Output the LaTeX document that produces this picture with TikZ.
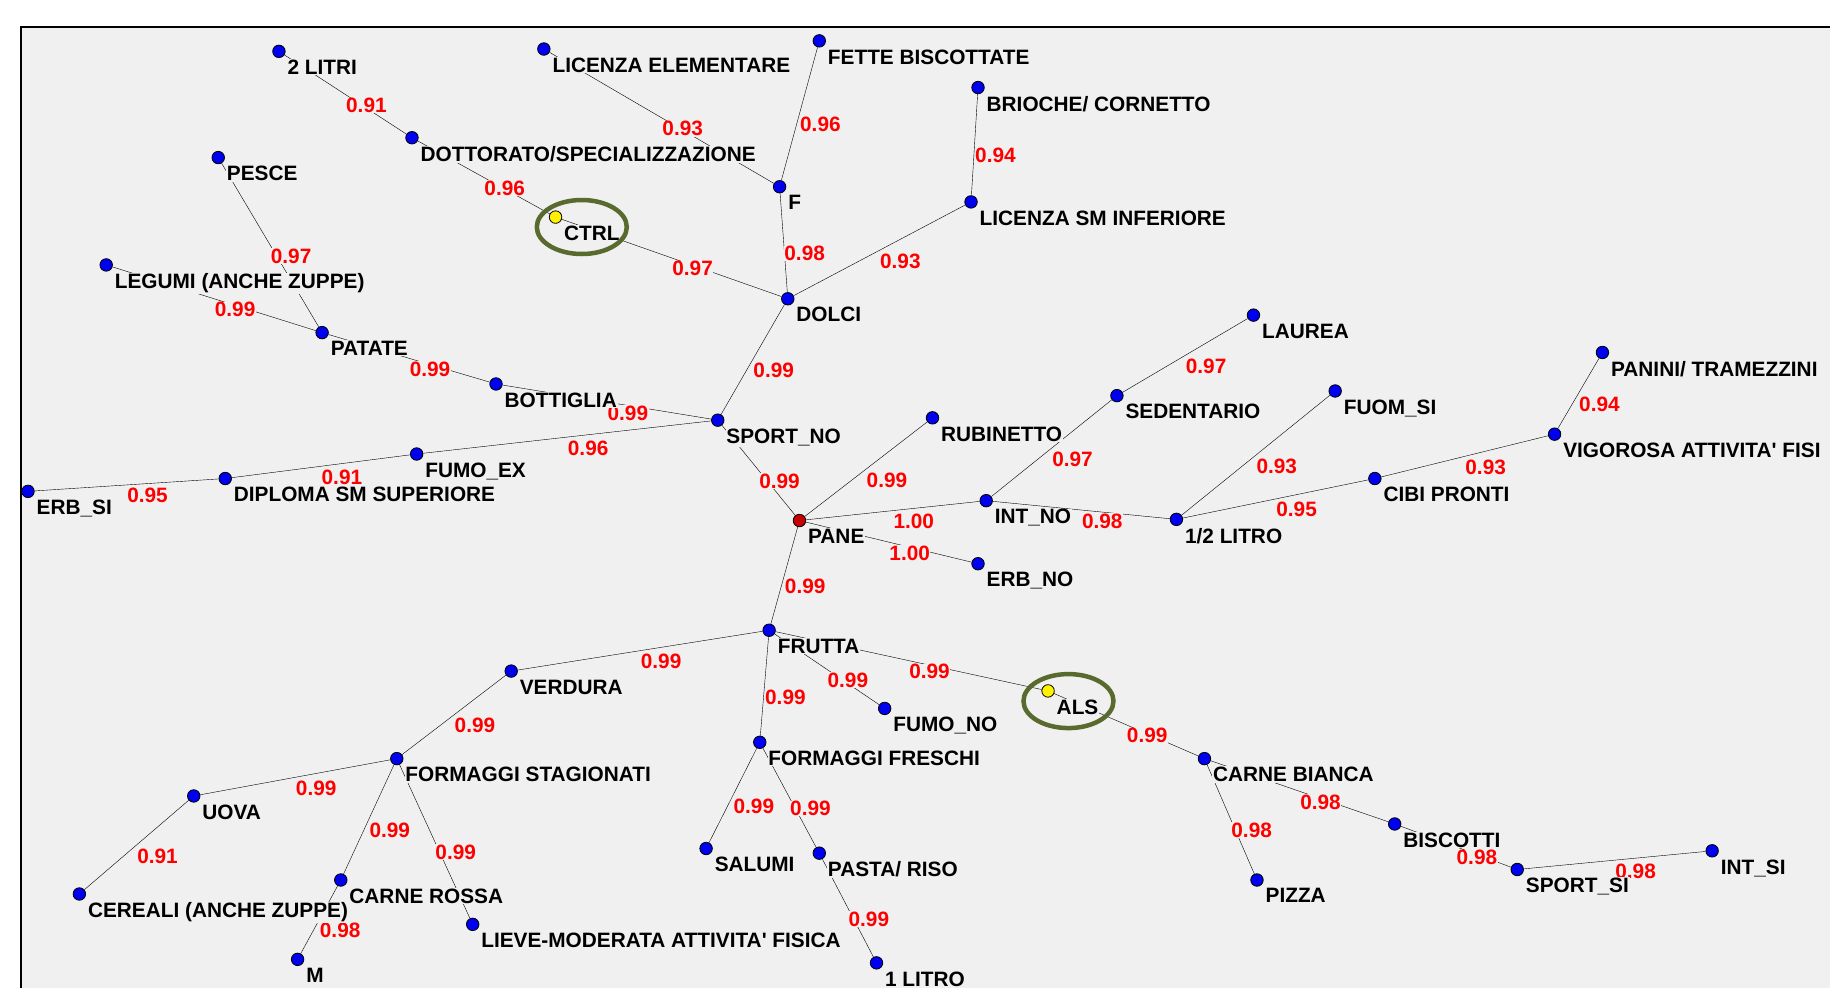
\documentclass[tikz,border=0pt]{standalone}
\usepackage{fontspec}
\setmainfont{Liberation Sans}
\usepackage{tikz}
\usetikzlibrary{shapes.geometric, backgrounds}

\definecolor{panel}{RGB}{240,240,240}
\definecolor{ringgreen}{RGB}{88,106,46}
\definecolor{dotblue}{RGB}{0,0,240}
\definecolor{dotred}{RGB}{200,0,0}

\begin{document}
\begin{tikzpicture}[x=1.1671pt, y=-1.1671pt, line width=1.1pt]
        % Define styles
        \tikzstyle{dot} = [circle, draw=black, line width=0.8pt, fill=dotblue, inner sep=0pt, minimum size=12.5pt]
        \tikzstyle{lbl} = [font=\bfseries\fontsize{20.8}{22}\selectfont, fill=panel, inner sep=0.8pt, label distance=3.7pt]
        \tikzstyle{wt} = [anchor=north west, yshift=-2.8pt, font=\bfseries\fontsize{20.8}{22}\selectfont, text=red, fill=panel, inner sep=0.5pt]
        \tikzstyle{hilite} = [ellipse, draw=ringgreen, line width=4.5pt, minimum width=90pt, minimum height=54pt]

        \useasboundingbox (0,0) rectangle (1568,846);
        \clip (0,0) rectangle (1568,846);

        % Place nodes
        \node [dot, label={[lbl]-45:{2 LITRI}}] (two_litri) at (239,44) {};
        \node [dot, label={[lbl]-45:{LICENZA ELEMENTARE}}] (lic_elem) at (466,42) {};
        \node [dot, label={[lbl]-45:{FETTE BISCOTTATE}}] (fette) at (702,35) {};
        \node [dot, label={[lbl]-45:{BRIOCHE/ CORNETTO}}] (brioche) at (838,75) {};
        \node [dot, label={[lbl]-45:{DOTTORATO/SPECIALIZZAZIONE}}] (dott) at (353,118) {};
        \node [dot, label={[lbl]-45:{PESCE}}] (pesce) at (187,135) {};
        \node [dot, fill=yellow, label={[lbl]-45:{CTRL}}] (ctrl) at (476,186) {};
        \node [dot, label={[lbl]-45:{F}}] (f_node) at (668,160) {};
        \node [dot, label={[lbl]-45:{LICENZA SM INFERIORE}}] (lic_inf) at (832,173) {};
        \node [dot, label={[lbl]-45:{LEGUMI (ANCHE ZUPPE)}}] (legumi) at (91,227) {};
        \node [dot, label={[lbl]-45:{DOLCI}}] (dolci) at (675,256) {};
        \node [dot, label={[lbl]-45:{PATATE}}] (patate) at (276,285) {};
        \node [dot, label={[lbl]-45:{LAUREA}}] (laurea) at (1074,270) {};
        \node [dot, label={[lbl]-45:{BOTTIGLIA}}] (bottiglia) at (425,329) {};
        \node [dot, label={[lbl]-45:{SEDENTARIO}}] (sedentario) at (957,339) {};
        \node [dot, label={[lbl]-45:{PANINI/ TRAMEZZINI}}] (panini) at (1373,302) {};
        \node [dot, label={[lbl]-45:{FUOM\_SI}}] (fuom_si) at (1144,335) {};
        \node [dot, label={[lbl]-45:{SPORT\_NO}}] (sport_no) at (615,360) {};
        \node [dot, label={[lbl]-45:{RUBINETTO}}] (rubinetto) at (799,358) {};
        \node [dot, label={[lbl]-45:{FUMO\_EX}}] (fumo_ex) at (357,389) {};
        \node [dot, label={[lbl]-45:{VIGOROSA ATTIVITA\textquotesingle{} FISI}}] (vigorosa) at (1332,372) {};
        \node [dot, label={[lbl]-45:{DIPLOMA SM SUPERIORE}}] (diploma) at (193,410) {};
        \node [dot, label={[lbl]-45:{ERB\_SI}}] (erb_si) at (24,421) {};
        \node [dot, label={[lbl]-45:{CIBI PRONTI}}] (cibi) at (1178,410) {};
        \node [dot, label={[lbl]-45:{INT\_NO}}] (int_no) at (845,429) {};
        \node [dot, fill=dotred, label={[lbl]-45:{PANE}}] (pane) at (685,446) {};
        \node [dot, label={[lbl]-45:{1/2 LITRO}}] (half_litro) at (1008,445) {};
        \node [dot, label={[lbl]-45:{ERB\_NO}}] (erb_no) at (838,483) {};
        \node [dot, label={[lbl]-45:{FRUTTA}}] (frutta) at (659,540) {};
        \node [dot, label={[lbl]-45:{VERDURA}}] (verdura) at (438,575) {};
        \node [dot, fill=yellow, label={[lbl]-45:{ALS}}] (als) at (898,592) {};
        \node [dot, label={[lbl]-45:{FUMO\_NO}}] (fumo_no) at (758,607) {};
        \node [dot, label={[lbl]-45:{FORMAGGI FRESCHI}}] (form_fr) at (651,636) {};
        \node [dot, label={[lbl]-45:{FORMAGGI STAGIONATI}}] (form_st) at (340,650) {};
        \node [dot, label={[lbl]-45:{CARNE BIANCA}}] (carne_b) at (1032,650) {};
        \node [dot, label={[lbl]-45:{UOVA}}] (uova) at (166,682) {};
        \node [dot, label={[lbl]-45:{BISCOTTI}}] (biscotti) at (1195,706) {};
        \node [dot, label={[lbl]-45:{SALUMI}}] (salumi) at (605,727) {};
        \node [dot, label={[lbl]-45:{PASTA/ RISO}}] (pasta) at (702,731) {};
        \node [dot, label={[lbl]-45:{INT\_SI}}] (int_si) at (1467,729) {};
        \node [dot, label={[lbl]-45:{SPORT\_SI}}] (sport_si) at (1300,745) {};
        \node [dot, label={[lbl]-45:{CARNE ROSSA}}] (carne_r) at (292,754) {};
        \node [dot, label={[lbl]-45:{PIZZA}}] (pizza) at (1077,754) {};
        \node [dot, label={[lbl]-45:{CEREALI (ANCHE ZUPPE)}}] (cereali) at (68,766) {};
        \node [dot, label={[lbl]-45:{LIEVE-MODERATA ATTIVITA\textquotesingle{} FISICA}}] (lieve) at (405,792) {};
        \node [dot, label={[lbl]-45:{M}}] (m_node) at (255,822) {};
        \node [dot, label={[lbl]-45:{1 LITRO}}] (litro) at (751,825) {};

        % Circle the two groups
        \node [hilite] (ctrl_ring) at (498.5,194.5) {};
        \node [hilite] (als_ring) at (915.5,600.7) {};

        % Draw connections with their weights
        \begin{scope}[on background layer]
            \fill [white] (0,0) rectangle (1568,846);
            \draw [fill=panel, line width=2pt] (18,23) rectangle (1600,880);

            \draw (two_litri) -- node[wt] {0.91} (dott);
            \draw (dott) -- node[wt] {0.96} (ctrl);
            \draw (lic_elem) -- node[wt] {0.93} (f_node);
            \draw (fette) -- node[wt] {0.96} (f_node);
            \draw (brioche) -- node[wt] {0.94} (lic_inf);
            \draw (ctrl) -- node[wt] {0.97} (dolci);
            \draw (f_node) -- node[wt] {0.98} (dolci);
            \draw (lic_inf) -- node[wt] {0.93} (dolci);
            \draw (pesce) -- node[wt] {0.97} (patate);
            \draw (legumi) -- node[wt] {0.99} (patate);
            \draw (patate) -- node[wt] {0.99} (bottiglia);
            \draw (bottiglia) -- node[wt] {0.99} (sport_no);
            \draw (dolci) -- node[wt] {0.99} (sport_no);
            \draw (fumo_ex) -- node[wt] {0.96} (sport_no);
            \draw (diploma) -- node[wt] {0.91} (fumo_ex);
            \draw (erb_si) -- node[wt] {0.95} (diploma);
            \draw (sport_no) -- node[wt] {0.99} (pane);
            \draw (rubinetto) -- node[wt] {0.99} (pane);
            \draw (pane) -- node[wt] {1.00} (int_no);
            \draw (pane) -- node[wt] {1.00} (erb_no);
            \draw (int_no) -- node[wt] {0.97} (sedentario);
            \draw (sedentario) -- node[wt] {0.97} (laurea);
            \draw (int_no) -- node[wt] {0.98} (half_litro);
            \draw (half_litro) -- node[wt] {0.93} (fuom_si);
            \draw (half_litro) -- node[wt] {0.95} (cibi);
            \draw (cibi) -- node[wt] {0.93} (vigorosa);
            \draw (vigorosa) -- node[wt] {0.94} (panini);
            \draw (pane) -- node[wt] {0.99} (frutta);
            \draw (frutta) -- node[wt] {0.99} (verdura);
            \draw (frutta) -- node[wt] {0.99} (fumo_no);
            \draw (frutta) -- node[wt] {0.99} (als);
            \draw (frutta) -- node[wt] {0.99} (form_fr);
            \draw (verdura) -- node[wt] {0.99} (form_st);
            \draw (als) -- node[wt] {0.99} (carne_b);
            \draw (form_fr) -- node[wt] {0.99} (salumi);
            \draw (form_fr) -- node[wt] {0.99} (pasta);
            \draw (pasta) -- node[wt] {0.99} (litro);
            \draw (form_st) -- node[wt] {0.99} (uova);
            \draw (form_st) -- node[wt] {0.99} (carne_r);
            \draw (form_st) -- node[wt] {0.99} (lieve);
            \draw (uova) -- node[wt] {0.91} (cereali);
            \draw (carne_r) -- node[wt] {0.98} (m_node);
            \draw (carne_b) -- node[wt] {0.98} (pizza);
            \draw (carne_b) -- node[wt] {0.98} (biscotti);
            \draw (biscotti) -- node[wt] {0.98} (sport_si);
            \draw (sport_si) -- node[wt] {0.98} (int_si);
        \end{scope}
    \end{tikzpicture}
\end{document}
